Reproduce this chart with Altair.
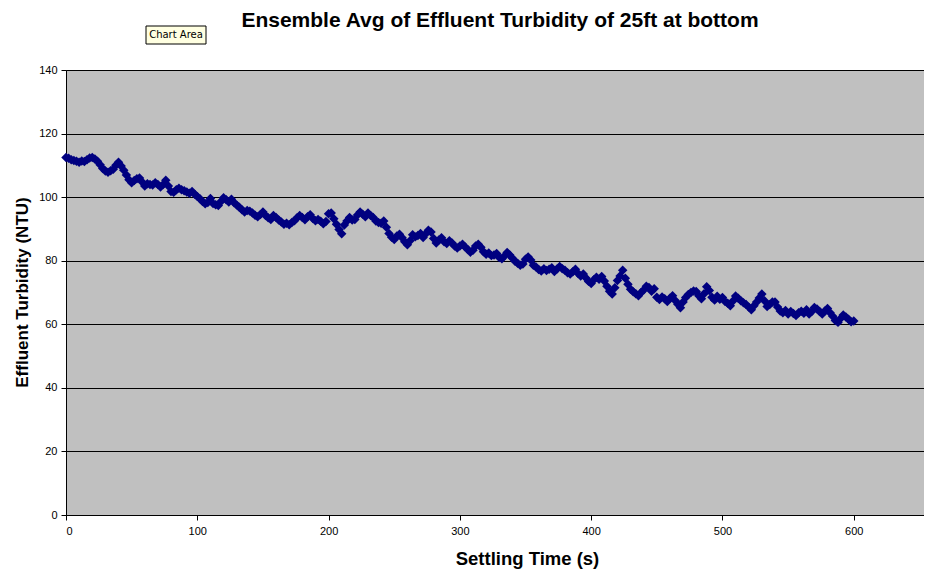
import altair as alt
import pandas as pd

# Settling time (s), sampled every 2 s
times = list(range(0, 601, 2))

# Effluent turbidity (NTU)
turbidity = [
    112.5, 112.2, 111.8, 111.5, 111.3, 111.0, 111.4, 111.2, 111.8, 112.3,
    112.5, 112.0, 111.3, 110.2, 109.0, 108.2, 107.8, 108.3, 108.8, 110.0,
    111.0, 109.8, 108.5, 107.0, 105.5, 104.5, 105.2, 105.8, 106.0, 104.8,
    103.5, 104.2, 104.0, 103.8, 104.5, 104.0, 103.2, 104.0, 105.3, 103.5,
    101.8, 101.5, 102.3, 102.8, 102.3, 102.0, 101.6, 101.2, 101.8, 100.9,
    100.2, 99.5, 98.6, 97.9, 98.3, 99.6, 98.0, 97.6, 97.4, 98.6,
    99.8, 99.2, 98.5, 99.3, 98.2, 97.5, 96.8, 96.0, 95.3, 95.8,
    95.6, 95.0, 94.3, 93.8, 94.5, 95.3, 94.2, 93.5, 93.0, 94.2,
    93.6, 92.8, 92.2, 91.5, 91.8, 91.3, 92.0, 92.6, 93.5, 94.2,
    93.6, 92.9, 93.8, 94.5, 93.3, 92.6, 93.0, 92.4, 91.6, 92.3,
    94.8, 95.0, 93.2, 91.5, 89.8, 88.5, 91.2, 92.5, 93.6, 92.8,
    93.0, 94.4, 95.3, 94.6, 93.8, 95.0, 94.2, 93.6, 92.5, 92.0,
    91.8, 92.5, 90.5, 88.6, 87.4, 86.7, 87.8, 88.3, 87.2, 86.0,
    85.0, 86.3, 88.2, 87.5, 87.9, 88.6, 87.3, 88.5, 89.6, 89.0,
    87.0, 85.6, 86.5, 87.2, 86.0, 85.4, 86.3, 85.6, 84.6, 84.0,
    84.6, 85.2, 84.3, 83.5, 82.7, 83.3, 84.6, 85.2, 84.2, 82.8,
    82.0, 82.4, 81.6, 81.8, 82.3, 81.0, 80.6, 81.5, 82.6, 81.8,
    80.8, 79.8, 79.2, 78.6, 79.0, 80.5, 81.2, 80.2, 78.6, 78.0,
    77.2, 76.8, 77.5, 76.9, 77.3, 77.8, 76.6, 77.4, 78.2, 77.5,
    77.0, 76.2, 75.8, 76.5, 77.3, 76.0, 75.2, 75.8, 74.6, 73.5,
    72.8, 74.0, 74.8, 74.2, 75.0, 73.6, 72.0, 70.4, 69.5, 71.5,
    73.8, 75.2, 77.0, 74.5, 72.6, 71.0, 70.2, 69.6, 69.0, 70.0,
    70.8, 72.0, 71.6, 70.4, 71.2, 68.5, 67.8, 68.6, 68.0, 67.2,
    68.2, 69.0, 67.5, 66.3, 65.2, 67.0, 68.4, 69.4, 70.0, 70.5,
    70.3, 69.0, 68.0, 69.6, 71.8, 70.6, 68.5, 67.6, 68.8, 67.9,
    68.4, 67.2, 66.6, 65.8, 67.3, 68.9, 68.2, 67.4, 66.8, 66.2,
    65.4, 64.6, 65.8, 67.0, 68.3, 69.5, 67.4, 65.6, 66.2, 67.0,
    67.0, 65.4, 64.2, 63.6, 64.3, 63.2, 64.0, 63.4, 62.8, 63.6,
    64.1, 63.5, 64.6, 63.2, 64.0, 65.3, 64.8, 64.0, 63.2, 64.2,
    65.0, 63.6, 62.5, 61.2, 60.6, 61.8, 62.9, 62.3, 61.6, 60.8,
    61.0,
]

x_ticks = [0, 100, 200, 300, 400, 500, 600]
y_ticks = [0, 20, 40, 60, 80, 100, 120, 140]

title_text = "Ensemble Avg of Effluent Turbidity of 25ft at bottom"

df = pd.DataFrame({"t": times, "ntu": turbidity})

FONT = "Liberation Sans"

points = alt.Chart(df).mark_point(
    shape="diamond", filled=True, size=90, color="#000080", opacity=1
).encode(
    x=alt.X(
        "t:Q",
        scale=alt.Scale(domain=[0, 653.5], nice=False, zero=False),
        axis=alt.Axis(
            values=x_ticks, grid=False, title="Settling Time (s)",
            domainColor="black", tickColor="black", tickSize=5,
            labelFont=FONT, labelFontSize=11, labelColor="black", labelPadding=5,
            titleFont=FONT, titleFontSize=18.5, titleFontWeight="bold", titleColor="black",
            titleX=461, titleY=43, titleBaseline="middle", titleAlign="center",
        ),
    ),
    y=alt.Y(
        "ntu:Q",
        scale=alt.Scale(domain=[0, 140], nice=False),
        axis=alt.Axis(
            values=y_ticks, grid=True, gridColor="black", gridOpacity=1, gridWidth=1,
            title="Effluent Turbidity (NTU)",
            domainColor="black", tickColor="black", tickSize=5,
            labelFont=FONT, labelFontSize=11, labelColor="black", labelPadding=4,
            titleFont=FONT, titleFontSize=17, titleFontWeight="bold", titleColor="black",
            titleX=-44, titleY=222, titleAngle=-90, titleBaseline="middle", titleAlign="center",
        ),
    ),
)

labels = pd.DataFrame({"label": ["Chart Area"], "title": [title_text]})

title_mark = alt.Chart(labels).mark_text(
    font=FONT, fontSize=21, fontWeight="bold", color="black",
    align="center", baseline="alphabetic",
).encode(x=alt.value(434), y=alt.value(-43), text="title:N")

tip_box = alt.Chart(labels).mark_rect(
    fill="#FFFFE1", stroke="black", strokeWidth=1
).encode(
    x=alt.value(80), x2=alt.value(140), y=alt.value(-44), y2=alt.value(-26)
)
tip_text = alt.Chart(labels).mark_text(
    font="DejaVu Sans", fontSize=10, color="black", align="center", baseline="middle"
).encode(
    x=alt.value(110), y=alt.value(-35), text="label:N"
)

chart = alt.layer(points, title_mark, tip_box, tip_text).properties(
    width=858,
    height=445,
    padding={"left": 58, "top": 62, "right": 0, "bottom": 55},
    autosize=alt.AutoSizeParams(type="none"),
    background="white",
).configure_view(fill="#C0C0C0", stroke="#808080", strokeWidth=1)

chart.save("out.html", embed_options={"renderer": "svg", "actions": False})
